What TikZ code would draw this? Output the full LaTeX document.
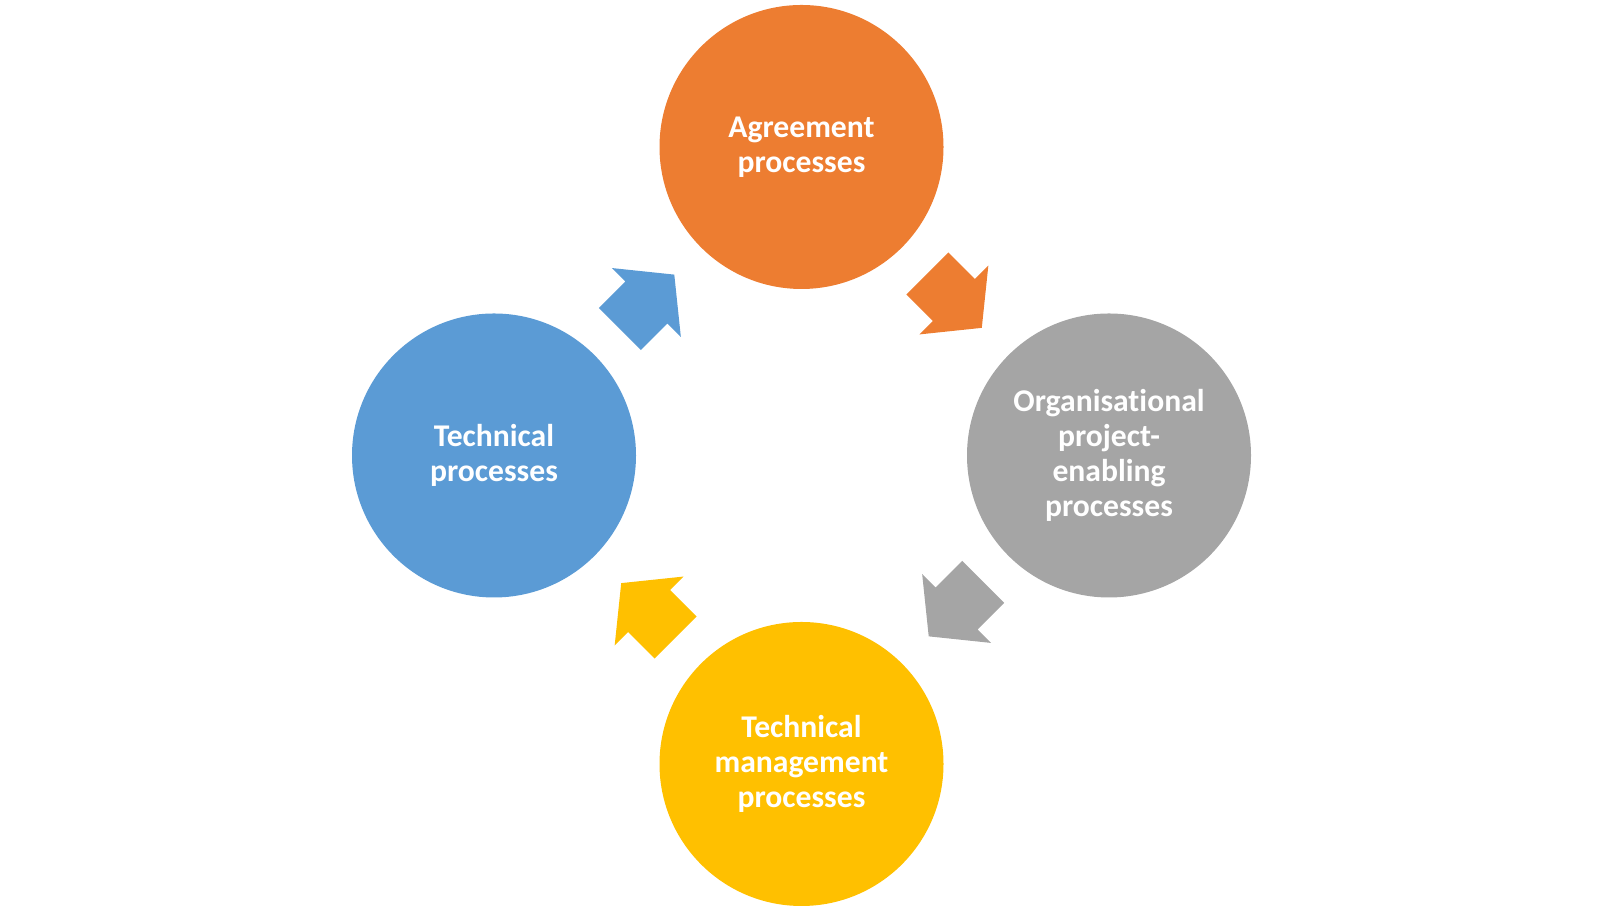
\documentclass[tikz,border=0pt]{standalone}
\usepackage{fontspec}
\setmainfont{Carlito}[Ligatures=NoCommon]
\usetikzlibrary{shapes.arrows,calc}

\definecolor{agrorange}{HTML}{ED7D31}
\definecolor{orggray}{HTML}{A5A5A5}
\definecolor{mangold}{HTML}{FFC000}
\definecolor{techblue}{HTML}{5B9BD5}

\tikzset{
  phase/.style={circle, minimum size=2.84cm, inner sep=0pt,
    text=white, align=center,
    font=\fontsize{9}{9.96}\selectfont\bfseries},
  flow/.style={single arrow, anchor=tip, inner xsep=0pt, inner ysep=0.29cm,
    single arrow head extend=0.19cm, single arrow tip angle=102,
    minimum height=0.77cm, minimum width=0pt},
}

\begin{document}
\begin{tikzpicture}
    \useasboundingbox (0,0) rectangle (16.02,9.10);

    \node[phase, fill=agrorange] (agr) at (8.015,7.63) {Agreement\\processes};

    \node[phase, fill=orggray] (org) at (11.09,4.545)
      {Organisational\\project-\\enabling\\processes};

    \node[phase, fill=mangold] (man) at (8.015,1.46)
      {Technical\\management\\processes};

    \node[phase, fill=techblue] (tech) at (4.94,4.545) {Technical\\processes};

    % arrows of the cycle, tip half a length past the midpoint
    \node[flow, fill=agrorange, rotate=-45] (f1)
      at ($(agr)!0.5!(org)!0.385cm!(org)$) {};
    \node[flow, fill=orggray, rotate=-135] (f2)
      at ($(org)!0.5!(man)!0.385cm!(man)$) {};
    \node[flow, fill=mangold, rotate=135] (f3)
      at ($(man)!0.5!(tech)!0.385cm!(tech)$) {};
    \node[flow, fill=techblue, rotate=45] (f4)
      at ($(tech)!0.5!(agr)!0.385cm!(agr)$) {};
\end{tikzpicture}
\end{document}
